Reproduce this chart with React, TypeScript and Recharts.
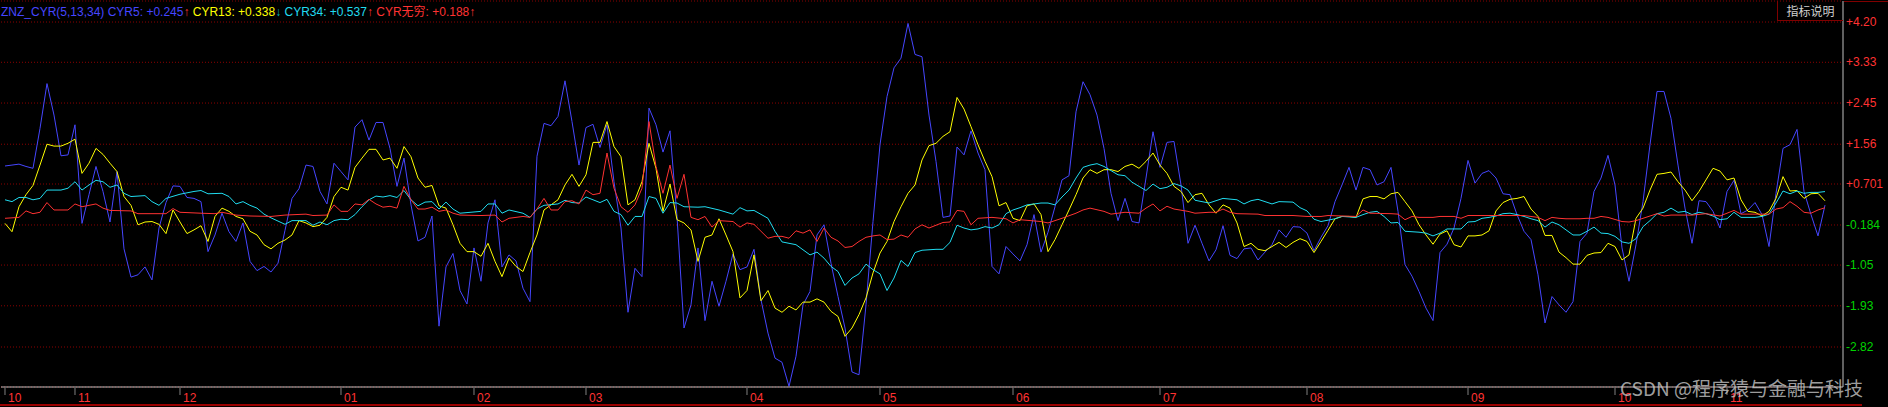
/**
 * App.tsx - ZNZ_CYR(5,13,34) indicator panel (dark trading-terminal style).
 * Four CYR lines over ~13 months of daily bars, right value axis, month ticks.
 */

import React from "react";
import { LineChart, Line, XAxis, YAxis, CartesianGrid } from "recharts";

// CYR5 (blue), one value per trading day, day 0..260.
const cyr5 = [
  1.09, 1.11, 1.13, 1.08, 1.04, 1.9, 2.87, 2.19, 1.31, 1.33,
  1.98, -0.15, 0.47, 1.08, 0.54, -0.12, 0.97, -0.7, -1.31, -1.26,
  -1.09, -1.37, -0.25, 0.3, 0.66, 0.65, 0.41, 0.39, 0.32, -0.76,
  -0.4, 0.07, -0.33, -0.54, -0.14, -0.97, -1.17, -1.08, -1.2, -1.01,
  -0.3, 0.39, 0.6, 1.11, 1.08, 0.54, 0.27, 1.15, 0.97, 0.79,
  1.93, 2.09, 1.65, 2.03, 2.03, 1.47, 0.65, 1.26, 0.25, -0.53,
  -0.45, 0.01, -2.37, -1.09, -0.8, -1.6, -1.89, -0.68, -1.4, -0.14,
  0.36, -1.09, -0.83, -0.96, -1.55, -1.84, 1.3, 2.01, 1.96, 2.16,
  2.93, 2.05, 1.11, 1.92, 1.99, 1.49, 1.98, 0.75, -0.25, -2.07,
  -1.12, -1.3, 2.34, 1.98, 1.39, 1.85, 0.0, -2.41, -1.91, -0.68,
  -2.25, -1.4, -1.94, -1.4, -0.81, -1.15, -1.09, -0.71, -1.8, -2.52,
  -3.06, -3.15, -3.67, -3.02, -1.91, -1.62, -0.4, -0.18, -1.01, -1.73,
  -2.41, -3.36, -3.42, -1.91, -0.11, 1.55, 2.59, 3.21, 3.42, 4.17,
  3.5, 3.45, 2.19, 1.19, -0.02, 0.01, 1.5, 1.33, 1.85, 1.37,
  1.01, -1.08, -1.24, -0.65, -0.81, -0.96, -0.61, 0.04, -0.77, -0.34,
  0.21, 0.79, 0.88, 2.26, 2.91, 2.63, 2.19, 1.47, 0.5, -0.09,
  0.39, -0.11, -0.14, 0.83, 1.83, 1.06, 1.6, 1.62, 0.68, -0.58,
  -0.19, -0.58, -0.96, -0.72, -0.2, -0.84, -0.91, -0.7, -0.68, -0.94,
  -0.77, -0.61, -0.29, -0.45, -0.22, -0.23, -0.36, -0.74, -0.45, -0.2,
  0.32, 0.68, 1.06, 0.57, 1.06, 1.01, 0.68, 0.75, 1.06, 0.11,
  -1.04, -1.29, -1.62, -1.98, -2.25, -0.78, -0.6, -0.25, 0.39, 1.21,
  0.72, 0.93, 0.99, 0.83, 0.49, 0.47, 0.04, -0.32, -0.5, -1.26,
  -2.3, -1.73, -1.91, -2.07, -1.84, -0.54, -0.36, 0.54, 0.83, 1.32,
  0.68, -0.68, -1.4, -0.61, 0.32, 1.55, 2.7, 2.7, 2.12, 1.11,
  0.18, -0.58, 0.34, 0.32, 0.11, -0.25, 0.54, 0.78, 0.06, 0.14,
  0.3, 0.04, -0.65, 0.5, 1.47, 1.55, 1.88, 0.54, 0.04, -0.42,
  0.245,
];

// CYR13 (yellow), one value per trading day.
const cyr13 = [
  -0.15, -0.33, 0.21, 0.47, 0.67, 1.11, 1.56, 1.52, 1.52, 1.58,
  1.67, 0.93, 1.15, 1.47, 1.34, 1.15, 0.97, 0.43, 0.24, -0.18,
  -0.12, -0.11, -0.17, -0.37, 0.14, -0.12, -0.37, -0.29, -0.2, -0.54,
  0.0, 0.18, 0.11, 0.0, -0.05, -0.32, -0.4, -0.61, -0.7, -0.58,
  -0.51, -0.4, -0.09, -0.14, -0.22, -0.19, -0.02, 0.43, 0.63, 0.57,
  1.06, 1.26, 1.45, 1.45, 1.22, 1.26, 1.04, 1.51, 1.29, 0.83,
  0.63, 0.67, 0.23, 0.18, -0.18, -0.58, -0.76, -0.76, -0.86, -0.58,
  -0.97, -1.3, -0.9, -1.08, -1.19, -0.78, -0.4, 0.14, 0.25, 0.36,
  0.68, 0.91, 0.65, 0.9, 1.6, 1.6, 2.05, 1.51, 1.29, 0.25,
  0.36, 0.75, 1.58, 1.04, 0.11, 0.7, -0.07, -0.14, -0.29, -0.97,
  -0.45, -0.4, -0.05, -0.4, -0.76, -1.76, -1.6, -0.83, -1.82, -1.6,
  -1.98, -2.07, -1.94, -2.02, -1.85, -1.85, -1.78, -1.85, -2.05, -2.16,
  -2.59, -2.41, -2.12, -1.76, -1.22, -0.79, -0.54, -0.11, 0.21, 0.5,
  0.68, 1.22, 1.53, 1.58, 1.73, 1.83, 2.57, 2.32, 1.94, 1.55,
  1.19, 0.86, 0.23, 0.3, -0.04, -0.09, 0.23, 0.27, 0.04, -0.76,
  -0.5, -0.18, 0.14, 0.47, 0.83, 1.01, 0.93, 1.01, 1.01, 0.97,
  1.08, 1.13, 1.04, 1.19, 1.37, 1.11, 0.93, 0.65, 0.54, 0.3,
  0.47, 0.5, 0.25, 0.07, 0.25, 0.18, -0.14, -0.65, -0.58, -0.71,
  -0.74, -0.65, -0.56, -0.67, -0.56, -0.48, -0.54, -0.78, -0.54, -0.3,
  -0.05, 0.0, 0.0, -0.02, 0.38, 0.43, 0.43, 0.38, 0.49, 0.52,
  0.32, 0.12, -0.18, -0.4, -0.6, -0.38, -0.31, -0.61, -0.66, -0.42,
  -0.42, -0.4, -0.31, 0.12, 0.3, 0.37, 0.39, 0.43, 0.16, 0.0,
  -0.41, -0.41, -0.77, -0.89, -1.03, -1.03, -0.84, -0.79, -0.78, -0.58,
  -0.65, -0.94, -0.83, -0.04, 0.18, 0.57, 0.91, 0.93, 0.96, 0.75,
  0.57, 0.34, 0.54, 0.79, 1.04, 0.98, 0.79, 0.83, 0.36, 0.11,
  0.09, 0.01, 0.11, 0.39, 0.86, 0.55, 0.56, 0.39, 0.49, 0.5,
  0.338,
];

// CYR34 (cyan), [day, value] readings.
const cyr34: [number, number][] = [
  [0, 0.36], [1, 0.32], [2, 0.41], [3, 0.41], [4, 0.36], [5, 0.39], [6, 0.57], [8, 0.57], [9, 0.61], [10, 0.75],
  [11, 0.57], [12, 0.68], [13, 0.78], [14, 0.75], [15, 0.63], [16, 0.68], [17, 0.5], [18, 0.43], [20, 0.45], [21, 0.32],
  [22, 0.24], [23, 0.39], [25, 0.48], [27, 0.54], [28, 0.56], [29, 0.49], [31, 0.5], [32, 0.43], [33, 0.27], [34, 0.32],
  [35, 0.24], [36, 0.18], [37, 0.05], [38, -0.03], [40, -0.17], [41, -0.09], [43, -0.09], [44, -0.19], [45, -0.12], [46, -0.18],
  [47, -0.09], [48, -0.06], [49, -0.07], [50, 0.04], [51, 0.21], [52, 0.36], [53, 0.44], [54, 0.42], [55, 0.45], [56, 0.41],
  [57, 0.56], [58, 0.36], [59, 0.23], [60, 0.31], [61, 0.32], [62, 0.16], [63, 0.31], [64, 0.16], [65, 0.07], [68, 0.11],
  [69, 0.27], [70, 0.27], [71, 0.07], [72, 0.14], [74, 0.07], [75, -0.02], [76, 0.16], [77, 0.24], [79, 0.27], [80, 0.35],
  [81, 0.3], [82, 0.29], [83, 0.42], [84, 0.36], [85, 0.3], [86, 0.37], [87, 0.11], [88, 0.04], [89, -0.19], [90, 0.0],
  [91, 0.0], [92, 0.43], [93, 0.39], [94, 0.07], [95, 0.3], [96, 0.29], [97, 0.21], [99, 0.2], [100, 0.21], [102, 0.14],
  [104, 0.05], [105, 0.19], [106, 0.12], [107, 0.13], [109, -0.04], [110, -0.32], [111, -0.55], [112, -0.58], [113, -0.61], [114, -0.72],
  [115, -0.83], [116, -0.77], [117, -0.9], [118, -1.08], [119, -1.19], [120, -1.49], [121, -1.33], [122, -1.24], [123, -1.03], [124, -1.15],
  [125, -1.24], [126, -1.6], [127, -1.33], [128, -0.95], [129, -1.08], [130, -0.78], [131, -0.73], [133, -0.71], [134, -0.71], [135, -0.56],
  [136, -0.19], [137, -0.25], [138, -0.29], [139, -0.27], [140, -0.22], [141, -0.25], [142, -0.18], [143, 0.06], [144, 0.14], [145, 0.19],
  [146, 0.25], [148, 0.29], [149, 0.29], [150, 0.25], [151, 0.42], [152, 0.57], [153, 0.83], [154, 1.06], [155, 1.11], [156, 1.14],
  [157, 1.08], [158, 0.99], [159, 0.9], [160, 0.88], [161, 0.74], [162, 0.65], [163, 0.56], [164, 0.7], [165, 0.6], [166, 0.63],
  [167, 0.71], [168, 0.66], [169, 0.57], [170, 0.35], [172, 0.29], [174, 0.39], [176, 0.36], [177, 0.27], [178, 0.34], [179, 0.37],
  [181, 0.27], [182, 0.32], [184, 0.31], [185, 0.19], [186, 0.12], [187, -0.06], [188, -0.11], [189, -0.08], [190, -0.05], [191, 0.0],
  [193, -0.02], [194, 0.04], [195, 0.09], [196, 0.11], [197, 0.0], [198, -0.14], [199, -0.13], [200, -0.32], [202, -0.34], [203, -0.36],
  [204, -0.42], [205, -0.36], [206, -0.27], [208, -0.27], [209, -0.12], [210, -0.11], [211, -0.04], [212, -0.02], [213, 0.01], [214, 0.06],
  [215, 0.07], [216, 0.04], [217, 0.0], [218, -0.05], [219, -0.09], [220, -0.23], [221, -0.12], [222, -0.18], [223, -0.29], [224, -0.4],
  [225, -0.4], [226, -0.32], [227, -0.23], [228, -0.36], [229, -0.37], [230, -0.43], [231, -0.55], [232, -0.58], [233, -0.48], [234, -0.22],
  [235, -0.09], [236, 0.06], [237, 0.09], [238, 0.18], [239, 0.09], [240, 0.11], [241, 0.04], [242, 0.09], [243, 0.06], [244, 0.01],
  [245, -0.07], [246, -0.05], [247, 0.09], [248, -0.02], [250, -0.02], [251, 0.0], [252, 0.05], [253, 0.29], [254, 0.55], [255, 0.49],
  [256, 0.55], [257, 0.5], [258, 0.52], [259, 0.52], [260, 0.537],
];

// CYR无穷 (red), [day, value] readings.
const cyrInf: [number, number][] = [
  [0, -0.04], [2, -0.02], [3, 0.12], [4, 0.06], [5, 0.09], [6, 0.3], [7, 0.14], [9, 0.14], [10, 0.27], [11, 0.21],
  [13, 0.27], [14, 0.18], [15, 0.13], [18, 0.12], [19, 0.06], [23, 0.06], [24, 0.17], [25, 0.09], [28, 0.07], [30, 0.06],
  [31, 0.09], [33, 0.03], [35, 0.01], [38, 0.0], [40, 0.03], [43, 0.05], [44, 0.02], [46, 0.03], [47, 0.25], [48, 0.11],
  [49, 0.11], [50, 0.27], [51, 0.25], [52, 0.37], [53, 0.27], [54, 0.2], [55, 0.22], [56, 0.18], [57, 0.65], [58, 0.36],
  [59, 0.16], [60, 0.16], [61, 0.2], [62, 0.11], [63, 0.14], [64, 0.07], [65, 0.03], [68, 0.02], [70, 0.03], [71, -0.12],
  [72, -0.04], [74, 0.0], [75, -0.02], [76, 0.16], [77, 0.39], [78, 0.14], [79, 0.14], [80, 0.32], [81, 0.34], [82, 0.27],
  [83, 0.57], [84, 0.47], [85, 0.5], [86, 1.37], [87, 0.61], [88, 0.21], [89, 0.09], [90, 0.25], [91, 0.61], [92, 2.05],
  [93, 1.08], [94, 0.5], [95, 1.11], [96, 0.39], [97, 0.91], [98, -0.02], [99, -0.07], [100, 0.0], [101, -0.23], [102, -0.09],
  [104, -0.11], [105, -0.23], [106, -0.14], [107, -0.17], [108, -0.32], [109, -0.47], [110, -0.43], [111, -0.43], [112, -0.47], [113, -0.31],
  [114, -0.36], [115, -0.29], [116, -0.54], [117, -0.25], [118, -0.45], [119, -0.53], [120, -0.67], [121, -0.65], [122, -0.54], [123, -0.45],
  [124, -0.42], [125, -0.4], [126, -0.5], [127, -0.49], [128, -0.4], [129, -0.45], [130, -0.27], [131, -0.18], [132, -0.25], [133, -0.19],
  [134, -0.13], [135, -0.12], [136, 0.13], [137, 0.11], [138, -0.18], [139, -0.04], [141, -0.02], [143, -0.05], [144, -0.14], [145, -0.07],
  [148, -0.11], [149, -0.14], [150, -0.09], [151, -0.04], [153, 0.07], [154, 0.14], [155, 0.18], [157, 0.11], [158, 0.05], [160, 0.09],
  [162, 0.07], [163, 0.18], [164, 0.27], [165, 0.12], [166, 0.22], [167, 0.16], [169, 0.11], [170, 0.07], [172, 0.09], [173, 0.09],
  [174, 0.16], [175, 0.09], [176, 0.06], [179, 0.05], [180, 0.02], [184, 0.02], [186, 0.0], [188, 0.0], [189, 0.02], [193, 0.0],
  [194, 0.14], [195, 0.07], [198, 0.06], [199, 0.05], [200, -0.07], [201, 0.0], [202, -0.02], [204, -0.02], [205, 0.0], [207, 0.0],
  [208, -0.04], [209, 0.02], [217, 0.02], [219, -0.02], [220, -0.09], [221, -0.02], [222, -0.04], [223, -0.05], [225, -0.05], [226, -0.04],
  [227, -0.04], [228, 0.0], [229, -0.02], [231, -0.11], [232, -0.12], [233, -0.09], [235, 0.01], [236, 0.06], [237, 0.01], [238, 0.03],
  [241, 0.03], [243, 0.06], [245, 0.01], [247, 0.13], [248, 0.05], [252, 0.05], [253, 0.16], [254, 0.19], [255, 0.32], [256, 0.22],
  [257, 0.09], [258, 0.07], [259, 0.14], [260, 0.188],
];

// First trading day of each month and its label.
const monthDays = [0, 10, 25, 48, 67, 83, 106, 125, 144, 165, 186, 209, 230, 246];
const monthLabels = ["10", "11", "12", "01", "02", "03", "04", "05", "06", "07", "08", "09", "10", "11"];

// Right axis grid values and their printed labels.
const yTicks = [4.2, 3.33, 2.45, 1.56, 0.701, -0.184, -1.05, -1.93, -2.82];
const yTickLabels = ["+4.20", "+3.33", "+2.45", "+1.56", "+0.701", "-0.184", "-1.05", "-1.93", "-2.82"];

const BLUE = "#4646ff";
const YELLOW = "#ffff00";
const CYAN = "#20dcf0";
const RED = "#ff3232";
const GREEN = "#00d400";
const FONT = "'Liberation Sans', Arial, 'Noto Sans CJK SC', sans-serif";

const cyanMap = new Map(cyr34);
const redMap = new Map(cyrInf);
const rows = cyr5.map((v, day) => ({
  day,
  cyr5: v,
  cyr13: cyr13[day],
  cyr34: cyanMap.has(day) ? cyanMap.get(day) : null,
  cyrInf: redMap.has(day) ? redMap.get(day) : null,
}));

const MonthTick = (props: any) => {
  const { x, y, payload } = props;
  const label = monthLabels[monthDays.indexOf(payload.value)];
  return (
    <g>
      <line x1={x} x2={x} y1={y + 1} y2={y + 8} stroke="#808080" />
      <text x={x + 3} y={y + 15} fill={RED} fontSize={12} fontFamily={FONT}>
        {label}
      </text>
    </g>
  );
};

const ValueTick = (props: any) => {
  const { x, y, payload } = props;
  const i = yTicks.indexOf(payload.value);
  return (
    <text x={x} y={y + 4} fill={payload.value > 0 ? RED : GREEN} fontSize={12} fontFamily={FONT}>
      {yTickLabels[i]}
    </text>
  );
};

const App: React.FC = () => {
  return (
    <div style={{ position: "absolute", left: 0, top: 0, width: 1888, height: 407, background: "#000", overflow: "hidden" }}>
      <LineChart width={1888} height={407} data={rows} margin={{ top: 1, right: 0, bottom: 0, left: 1 }}>
        <CartesianGrid yAxisId="r" vertical={false} stroke="#8b0000" strokeDasharray="1 2" />
        <XAxis
          dataKey="day"
          type="number"
          domain={[-0.571, 262.571]}
          ticks={monthDays}
          interval={0}
          height={20}
          tickSize={0}
          tickMargin={0}
          tickLine={false}
          axisLine={{ stroke: "#c0c0c0" }}
          tick={<MonthTick />}
          allowDataOverflow
        />
        <XAxis xAxisId="top" orientation="top" height={0} tick={false} tickLine={false} axisLine={{ stroke: "#c0c0c0" }} />
        <YAxis yAxisId="l" width={0} tick={false} tickLine={false} axisLine={{ stroke: "#c0c0c0" }} />
        <YAxis
          yAxisId="r"
          orientation="right"
          width={45}
          type="number"
          domain={[-3.684, 4.654]}
          ticks={yTicks}
          interval={0}
          tickSize={0}
          tickMargin={3}
          tickLine={false}
          axisLine={{ stroke: "#c0c0c0" }}
          tick={<ValueTick />}
          allowDataOverflow
        />
        <Line yAxisId="r" dataKey="cyr5" stroke={BLUE} strokeWidth={1} dot={false} isAnimationActive={false} />
        <Line yAxisId="r" dataKey="cyr13" stroke={YELLOW} strokeWidth={1} dot={false} isAnimationActive={false} />
        <Line yAxisId="r" dataKey="cyr34" stroke={CYAN} strokeWidth={1} dot={false} connectNulls isAnimationActive={false} />
        <Line yAxisId="r" dataKey="cyrInf" stroke={RED} strokeWidth={1} dot={false} connectNulls isAnimationActive={false} />
      </LineChart>

      {/* indicator title line */}
      <div style={{ position: "absolute", left: 1, top: 5, fontSize: 12, lineHeight: "14px", fontFamily: FONT, whiteSpace: "pre" }}>
        <span style={{ color: BLUE }}>ZNZ_CYR(5,13,34) CYR5: +0.245</span>
        <span style={{ color: RED }}>↑</span>
        <span style={{ color: YELLOW }}> CYR13: +0.338</span>
        <span style={{ color: "#00b8b8" }}>↓</span>
        <span style={{ color: CYAN }}> CYR34: +0.537</span>
        <span style={{ color: RED }}>↑</span>
        <span style={{ color: RED }}> CYR无穷: +0.188↑</span>
      </div>

      {/* "指标说明" button */}
      <div
        style={{
          position: "absolute", left: 1777, top: 1, width: 65, height: 19, borderLeft: "1px solid #800000",
          borderBottom: "1px solid #800000", color: "#d0d0d0", fontSize: 12, lineHeight: "20px", textAlign: "center",
          fontFamily: "'Noto Sans CJK SC', sans-serif",
        }}
      >
        指标说明
      </div>
      <div style={{ position: "absolute", left: 1844, top: 1, width: 44, height: 1, background: "#800000" }} />
      <div style={{ position: "absolute", left: 0, top: 404, width: 1862, height: 2, background: "#990000" }} />

      {/* watermark */}
      <div
        style={{
          position: "absolute", left: 1620, top: 376, fontSize: 19, lineHeight: "24px", color: "rgba(200,200,200,0.8)",
          fontFamily: "'Noto Sans CJK SC', sans-serif", whiteSpace: "pre",
        }}
      >
        CSDN @程序猿与金融与科技
      </div>
    </div>
  );
};

export default App;
